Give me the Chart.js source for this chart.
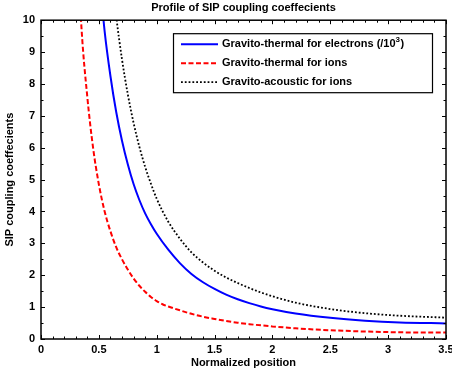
<!DOCTYPE html>
<html>
<head>
<meta charset="utf-8">
<script src="https://cdn.jsdelivr.net/npm/chart.js@4.4.0/dist/chart.umd.min.js"></script>
<style>
html, body { margin: 0; padding: 0; background: #fff; }
</style>
</head>
<body>
<canvas id="sipChart" width="452" height="370"></canvas>
<script>
// series names
var seriesLabels = ['Gravito-thermal for electrons (/10³)', 'Gravito-thermal for ions', 'Gravito-acoustic for ions'];

// values (normalized position -> coefficient)
var xElectrons = [0.5, 0.55, 0.6, 0.65, 0.7, 0.75, 0.8, 0.85, 0.9, 0.95, 1.0, 1.1, 1.2, 1.3, 1.4, 1.5, 1.6, 1.7, 1.8, 1.9, 2.0, 2.2, 2.5, 2.8, 3.1, 3.5];
var yElectrons = [11.6, 9.65, 8.25, 7.12, 6.22, 5.48, 4.86, 4.36, 3.94, 3.60, 3.30, 2.80, 2.38, 2.04, 1.78, 1.57, 1.39, 1.245, 1.125, 1.02, 0.935, 0.80, 0.665, 0.575, 0.52, 0.49];

var xIons = [0.3, 0.35, 0.4, 0.45, 0.5, 0.55, 0.6, 0.65, 0.7, 0.75, 0.8, 0.85, 0.9, 0.95, 1.0, 1.05, 1.1, 1.2, 1.3, 1.4, 1.5, 1.6, 1.7, 1.8, 2.0, 2.2, 2.5, 2.8, 3.1, 3.5];
var yIons = [13.4, 9.75, 7.6, 6.0, 4.85, 4.0, 3.38, 2.88, 2.50, 2.18, 1.90, 1.67, 1.48, 1.32, 1.19, 1.09, 1.02, 0.90, 0.79, 0.70, 0.63, 0.565, 0.51, 0.465, 0.395, 0.335, 0.275, 0.235, 0.21, 0.20];

var xAcoustic = [0.6, 0.65, 0.7, 0.75, 0.8, 0.85, 0.9, 0.95, 1.0, 1.1, 1.2, 1.3, 1.4, 1.5, 1.6, 1.7, 1.8, 1.9, 2.0, 2.2, 2.5, 2.8, 3.1, 3.5];
var yAcoustic = [11.8, 10.12, 8.77, 7.68, 6.78, 6.03, 5.40, 4.87, 4.40, 3.68, 3.15, 2.72, 2.40, 2.14, 1.93, 1.755, 1.60, 1.46, 1.34, 1.14, 0.94, 0.81, 0.73, 0.67];

var xMin = 0, xMax = 3.5, yMin = 0, yMax = 10;

function toPoints(xs, ys) {
    return xs.map(function (x, i) { return { x: x, y: ys[i] }; });
}

var FONT = 'Arial, "Liberation Sans", sans-serif';
Chart.defaults.color = '#000';
Chart.defaults.font.family = FONT;

// draws a label, turning a ³ into a raised "3"
function drawLabel(ctx, text, x, y) {
    var k = text.indexOf('³');
    if (k < 0) { ctx.fillText(text, x, y); return; }
    var head = text.slice(0, k), tail = text.slice(k + 1);
    ctx.fillText(head, x, y);
    x += ctx.measureText(head).width;
    var oldFont = ctx.font;
    ctx.font = 'bold 8px ' + FONT;
    ctx.fillText('3', x, y - 4);
    x += ctx.measureText('3').width + 0.5;
    ctx.font = oldFont;
    ctx.fillText(tail, x, y);
}

// frame, inward ticks on all four sides, legend box inside the axes
var matlabAxes = {
    id: 'matlabAxes',
    afterDatasetsDraw: function (chart) {
        var ctx = chart.ctx;
        var a = chart.chartArea;
        var xs = chart.scales.x, ys = chart.scales.y;
        ctx.save();
        ctx.strokeStyle = '#000';
        ctx.lineWidth = 1;

        // x ticks: major every 0.5, minor every 0.1
        for (var i = 0; i <= 35; i++) {
            var px = Math.round(xs.getPixelForValue(i / 10)) + 0.5;
            var len = (i % 5 === 0) ? 4 : 2.5;
            ctx.beginPath();
            ctx.moveTo(px, a.bottom); ctx.lineTo(px, a.bottom - len);
            ctx.moveTo(px, a.top); ctx.lineTo(px, a.top + len);
            ctx.stroke();
        }
        // y ticks: major every 1, minor every 0.5
        for (var j = 0; j <= 20; j++) {
            var py = Math.round(ys.getPixelForValue(j / 2)) + 0.5;
            var ln = (j % 2 === 0) ? 4 : 2.5;
            ctx.beginPath();
            ctx.moveTo(a.left, py); ctx.lineTo(a.left + ln, py);
            ctx.moveTo(a.right, py); ctx.lineTo(a.right - ln, py);
            ctx.stroke();
        }
        ctx.lineWidth = 1.5;
        ctx.strokeRect(a.left, a.top, a.right - a.left, a.bottom - a.top);

        // legend
        var bx = a.left + 132, by = a.top + 13, bw = 259, bh = 59;
        ctx.fillStyle = '#fff';
        ctx.fillRect(bx, by, bw, bh);
        ctx.lineWidth = 1.2;
        ctx.strokeRect(bx + 0.5, by + 0.5, bw, bh);
        ctx.font = 'bold 11px ' + FONT;
        ctx.textBaseline = 'middle';
        chart.data.datasets.forEach(function (ds, k) {
            var ry = by + 11 + k * 19;
            ctx.beginPath();
            ctx.strokeStyle = ds.borderColor;
            ctx.lineWidth = ds.borderWidth;
            ctx.setLineDash(ds.borderDash || []);
            ctx.moveTo(bx + 8, ry);
            ctx.lineTo(bx + 45, ry);
            ctx.stroke();
            ctx.setLineDash([]);
            ctx.fillStyle = '#000';
            drawLabel(ctx, ds.label, bx + 49, ry);
        });
        ctx.restore();
    }
};

var ctx = document.getElementById('sipChart').getContext('2d');
var chart = new Chart(ctx, {
    type: 'line',
    data: {
        datasets: [{
            label: seriesLabels[0],
            data: toPoints(xElectrons, yElectrons),
            borderColor: '#0000ff',
            borderWidth: 2,
            pointRadius: 0,
            cubicInterpolationMode: 'monotone'
        }, {
            label: seriesLabels[1],
            data: toPoints(xIons, yIons),
            borderColor: '#ff0000',
            borderWidth: 2,
            borderDash: [5, 2.5],
            pointRadius: 0,
            cubicInterpolationMode: 'monotone'
        }, {
            label: seriesLabels[2],
            data: toPoints(xAcoustic, yAcoustic),
            borderColor: '#000000',
            borderWidth: 1.8,
            borderDash: [1.8, 2],
            pointRadius: 0,
            cubicInterpolationMode: 'monotone'
        }]
    },
    options: {
        responsive: false,
        animation: false,
        layout: { padding: { left: 0, right: 6, top: 0, bottom: 0 } },
        plugins: {
            legend: { display: false },
            tooltip: { enabled: false },
            title: {
                display: true,
                fullSize: false,
                text: 'Profile of SIP coupling coeffecients',
                color: '#000',
                font: { family: FONT, size: 11, weight: 'bold' },
                padding: { top: 1, bottom: 6 }
            }
        },
        scales: {
            x: {
                type: 'linear',
                min: xMin,
                max: xMax,
                grid: { display: false, drawTicks: false },
                border: { display: false },
                ticks: {
                    stepSize: 0.5,
                    padding: 4,
                    maxRotation: 0,
                    autoSkip: false,
                    color: '#000',
                    font: { family: FONT, size: 11, weight: 'bold' },
                    callback: function (v) { return String(Math.round(v * 10) / 10); }
                },
                title: {
                    display: true,
                    text: 'Normalized position',
                    color: '#000',
                    font: { family: FONT, size: 11, weight: 'bold' },
                    padding: { top: 0, bottom: 0 }
                },
                afterFit: function (scale) {
                    scale.height = 31;
                    scale.paddingLeft = 0;
                    scale.paddingRight = 0;
                }
            },
            y: {
                min: yMin,
                max: yMax,
                grid: { display: false, drawTicks: false },
                border: { display: false },
                ticks: {
                    stepSize: 1,
                    padding: 6,
                    color: '#000',
                    font: { family: FONT, size: 11, weight: 'bold' }
                },
                title: {
                    display: true,
                    text: 'SIP coupling coeffecients',
                    color: '#000',
                    font: { family: FONT, size: 11, weight: 'bold' },
                    padding: { top: 3, bottom: 0 }
                },
                afterFit: function (scale) {
                    scale.width = 41;
                    scale.paddingTop = 0;
                    scale.paddingBottom = 0;
                }
            }
        }
    },
    plugins: [matlabAxes]
});
</script>
</body>
</html>
